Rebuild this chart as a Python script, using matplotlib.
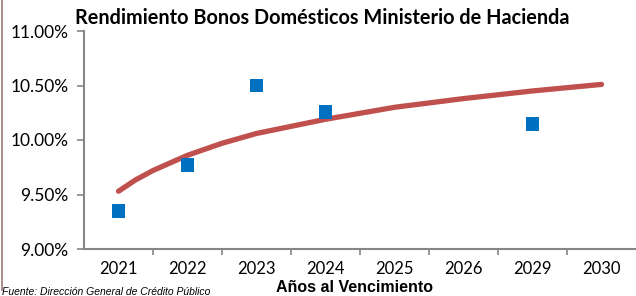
import matplotlib
matplotlib.use("Agg")
import matplotlib.pyplot as plt
import matplotlib.patheffects as pe
from matplotlib.lines import Line2D

categories = ["2021", "2022", "2023", "2024", "2025", "2026", "2029", "2030"]
point_pos = [0, 1, 2, 3, 6]
point_vals = [9.35, 9.77, 10.50, 10.26, 10.15]
trend_pos = [0, 0.25, 0.5, 1, 1.5, 2, 3, 4, 5, 6, 7]
trend_vals = [9.53, 9.635, 9.72, 9.86, 9.97, 10.06, 10.19, 10.30, 10.38, 10.45, 10.51]
yticks = [9.0, 9.5, 10.0, 10.5, 11.0]

fig = plt.figure(figsize=(6.36, 2.96), dpi=100)
ax = fig.add_axes([84/636, 1-249/296, 1-84/636, (249-31)/296])

ax.plot(trend_pos, trend_vals, color="#C0504D", lw=3.8, solid_capstyle="round",
        solid_joinstyle="round", zorder=2)
ax.plot(point_pos, point_vals, ls="none", marker="s", ms=10, color="#0070C0",
        mec="#0070C0", mew=0, zorder=3,
        path_effects=[pe.SimpleLineShadow(offset=(0.8, -1.5), shadow_color="#444444", alpha=0.3), pe.Normal()])

ax.set_xlim(-0.5, len(categories) - 0.5)
ax.set_ylim(9.0, 11.0)
ax.set_xticks(range(len(categories)))
ax.set_xticklabels(categories, fontsize=12, family="Lato")
ax.set_xticks([i + 0.5 for i in range(len(categories) - 1)], minor=True)
ax.tick_params(axis="x", which="major", length=0, pad=9)
ax.tick_params(axis="x", which="minor", length=4, color="#868686", width=1.2)
ax.set_yticks(yticks)
ax.set_yticklabels([f"{v:.2f}%" for v in yticks], fontsize=12.5, family="Lato")
ax.tick_params(axis="y", length=5, color="#868686", width=1.2, pad=6)
for s in ["top", "right"]:
    ax.spines[s].set_visible(False)
for s in ["left", "bottom"]:
    ax.spines[s].set_color("#868686")
    ax.spines[s].set_linewidth(1.5)

fig.text(322/636, 1-18/296, "Rendimiento Bonos Domésticos Ministerio de Hacienda",
         ha="center", va="center", fontsize=14.3, fontweight="bold", family="Lato")
fig.text(355/636, 1-288/296, "Años al Vencimiento", ha="center", va="center",
         fontsize=11.5, fontweight="bold", family="Liberation Sans")
fig.text(2/636, 1-292/296, "Fuente: Dirección General de Crédito Público", ha="left", va="center",
         fontsize=7.5, style="italic", family="Liberation Sans")
fig.add_artist(Line2D([1.5/636, 1.5/636], [0.02, 1], transform=fig.transFigure,
                      color="#A07A74", lw=1.2))

fig.savefig("out.png", dpi=100)
